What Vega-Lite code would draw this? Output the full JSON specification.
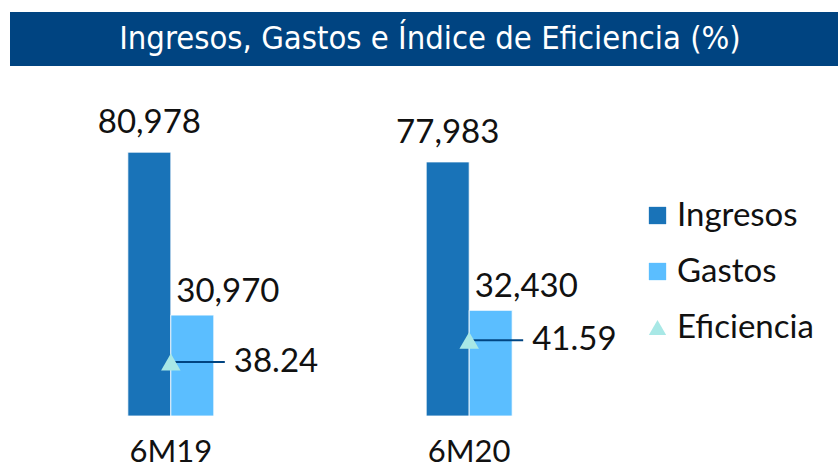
{
  "$schema": "https://vega.github.io/schema/vega-lite/v6.json",
  "padding": {"left": 10, "top": 12, "right": 0, "bottom": 0},
  "spacing": 34,
  "background": "#ffffff",
  "config": {
    "font": "Lato",
    "view": {"stroke": null},
    "axis": {"domain": false, "ticks": false, "grid": false, "labelColor": "#111111"},
    "legend": {"labelColor": "#111111"}
  },
  "datasets": {
    "titulo": [{"t": "Ingresos, Gastos e Índice de Eficiencia (%)"}],
    "barras": [
      {"periodo": "6M19", "serie": "Ingresos", "valor": 80978},
      {"periodo": "6M19", "serie": "Gastos", "valor": 30970},
      {"periodo": "6M20", "serie": "Ingresos", "valor": 77983},
      {"periodo": "6M20", "serie": "Gastos", "valor": 32430}
    ],
    "eficiencia": [
      {"periodo": "6M19", "serie": "Eficiencia", "eficiencia": 38.24},
      {"periodo": "6M20", "serie": "Eficiencia", "eficiencia": 41.59}
    ]
  },
  "vconcat": [
    {
      "width": 828,
      "height": 54,
      "view": {"fill": "#004481", "stroke": null},
      "data": {"name": "titulo"},
      "mark": {"type": "text", "color": "#ffffff", "fontSize": 32.5, "font": "Liberation Sans Narrow, DejaVu Sans Condensed, sans-serif", "fontWeight": "normal", "baseline": "middle", "dx": 6},
      "encoding": {
        "x": {"field": "t", "type": "nominal", "axis": null},
        "text": {"field": "t"}
      }
    },
    {
      "width": 620,
      "height": 316,
      "layer": [
        {
          "data": {"name": "barras"},
          "mark": {"type": "bar", "stroke": "#ffffff", "strokeWidth": 0.8},
          "encoding": {
            "x": {"field": "periodo", "type": "nominal", "title": null,
                  "scale": {"paddingInner": 0.712, "paddingOuter": 0.395},
                  "axis": {"labelAngle": 0, "labelFontSize": 31, "labelPadding": 21, "labelColor": "#111111"}},
            "xOffset": {"field": "serie", "type": "nominal", "sort": ["Ingresos", "Gastos"], "scale": {"domain": ["Ingresos", "Gastos"], "paddingInner": 0, "paddingOuter": 0}},
            "y": {"field": "valor", "type": "quantitative", "axis": null, "scale": {"domain": [0, 97000], "nice": false, "zero": true}},
            "color": {"field": "serie", "type": "nominal",
                      "scale": {"domain": ["Ingresos", "Gastos", "Eficiencia"], "range": ["#1973B8", "#5BBEFF", "#A8E8E6"]},
                      "legend": {"title": null, "orient": "none", "legendX": 631, "legendY": 187,
                                 "labelFontSize": 33, "symbolSize": 300, "symbolType": "square",
                                 "rowPadding": 22, "labelOffset": 3, "padding": 0, "symbolStrokeWidth": 0, "symbolOpacity": 1,
                                 "encode": {"symbols": {"update": {"size": {"signal": "datum.value === 'Eficiencia' ? 440 : 300"}}}}}}
          }
        },
        {
          "data": {"name": "barras"},
          "transform": [{"filter": "datum.serie === 'Ingresos'"}],
          "mark": {"type": "text", "fontSize": 33, "align": "center", "baseline": "alphabetic", "dy": -19, "color": "#111111"},
          "encoding": {
            "x": {"field": "periodo", "type": "nominal", "title": null},
            "xOffset": {"field": "serie", "type": "nominal"},
            "y": {"field": "valor", "type": "quantitative", "axis": null, "scale": {"domain": [0, 97000], "nice": false}},
            "text": {"field": "valor", "type": "quantitative", "format": ",d"}
          }
        },
        {
          "data": {"name": "barras"},
          "transform": [{"filter": "datum.serie === 'Gastos'"}],
          "mark": {"type": "text", "fontSize": 33, "align": "left", "baseline": "alphabetic", "dy": -13, "dx": -16, "color": "#111111"},
          "encoding": {
            "x": {"field": "periodo", "type": "nominal", "title": null},
            "xOffset": {"field": "serie", "type": "nominal"},
            "y": {"field": "valor", "type": "quantitative", "axis": null, "scale": {"domain": [0, 97000], "nice": false}},
            "text": {"field": "valor", "type": "quantitative", "format": ",d"}
          }
        },
        {
          "data": {"name": "eficiencia"},
          "mark": {"type": "rule", "color": "#004481", "strokeWidth": 2, "x2Offset": 54},
          "encoding": {
            "x": {"field": "periodo", "type": "nominal", "title": null, "bandPosition": 0.5},
            "x2": {"field": "periodo", "bandPosition": 0.5},
            "y": {"field": "eficiencia", "type": "quantitative", "axis": null, "scale": {"domain": [29.91, 78.68], "nice": false, "zero": false}}
          }
        },
        {
          "data": {"name": "eficiencia"},
          "mark": {"type": "point", "filled": true, "opacity": 1, "size": 380},
          "encoding": {
            "x": {"field": "periodo", "type": "nominal", "title": null},
            "y": {"field": "eficiencia", "type": "quantitative", "axis": null, "scale": {"domain": [29.91, 78.68], "nice": false, "zero": false}},
            "color": {"field": "serie", "type": "nominal"},
            "shape": {"field": "serie", "type": "nominal", "scale": {"domain": ["Ingresos", "Gastos", "Eficiencia"], "range": ["square", "square", "triangle-up"]}, "legend": {"title": null}}
          }
        },
        {
          "data": {"name": "eficiencia"},
          "mark": {"type": "text", "fontSize": 33, "align": "left", "baseline": "middle", "dx": 63, "color": "#111111"},
          "encoding": {
            "x": {"field": "periodo", "type": "nominal", "title": null},
            "y": {"field": "eficiencia", "type": "quantitative", "axis": null, "scale": {"domain": [29.91, 78.68], "nice": false, "zero": false}},
            "text": {"field": "eficiencia", "type": "quantitative", "format": ".2f"}
          }
        }
      ],
      "resolve": {"scale": {"y": "independent"}}
    }
  ]
}
